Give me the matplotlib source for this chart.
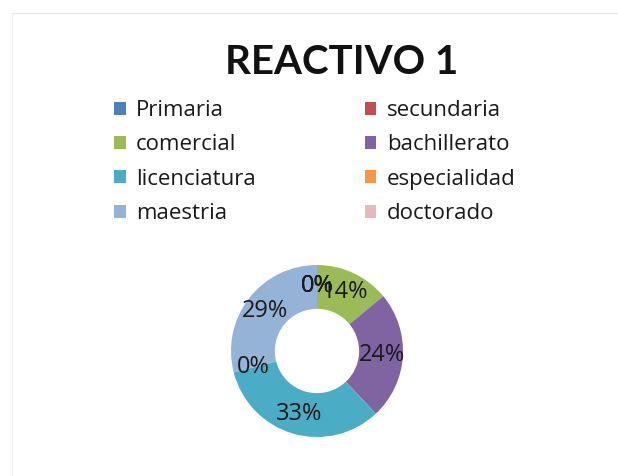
import matplotlib
matplotlib.use("Agg")
import matplotlib.pyplot as plt
from matplotlib.lines import Line2D

plt.rcParams['font.family'] = ['Lato', 'DejaVu Sans']

categorias = ["Primaria", "secundaria", "comercial", "bachillerato",
              "licenciatura", "especialidad", "maestria", "doctorado"]
porcentajes = [0, 0, 14, 24, 33, 0, 29, 0]
colores = ["#4F81BD", "#C0504D", "#9BBB59", "#8064A2",
           "#4BACC6", "#F79646", "#95B3D7", "#E6B9B8"]

W, H = 618, 476
fig = plt.figure(figsize=(W / 100, H / 100), dpi=100)
fig.patch.set_facecolor("white")

# faint frame lines along top and left
fig.add_artist(Line2D([12 / W, 1], [1 - 13 / H, 1 - 13 / H], color="#e4e4e4", lw=0.8))
fig.add_artist(Line2D([12 / W, 12 / W], [0, 1 - 13 / H], color="#eeeeee", lw=0.8))

# donut
cx, cy, r = 317, 351, 86
ax = fig.add_axes([(cx - r) / W, (H - cy - r) / H, 2 * r / W, 2 * r / H])
wedges, _, autotexts = ax.pie(porcentajes, colors=colores, startangle=90,
                              counterclock=False, autopct="%d%%",
                              pctdistance=0.76,
                              wedgeprops=dict(width=0.51, linewidth=0),
                              textprops=dict(fontsize=17, color="#1a1a1a",
                                             family=["Open Sans", "DejaVu Sans"]))
ax.set_xlim(-1, 1)
ax.set_ylim(-1, 1)
ax.set_aspect("equal")
ax.axis("off")

fig.text(342 / W, 1 - 62 / H, "REACTIVO 1", ha="center", va="center",
         fontsize=29, fontweight="bold", color="#111111")

# legend rows filled left to right
orden = [0, 2, 4, 6, 1, 3, 5, 7]
leg = fig.legend([wedges[i] for i in orden], [categorias[i] for i in orden],
                 ncol=2, loc="upper left", bbox_to_anchor=(114 / W, 1 - 100 / H),
                 frameon=False, prop=dict(family=["Open Sans", "DejaVu Sans"], size=16),
                 handlelength=0.52, handleheight=0.52,
                 handletextpad=0.48, labelspacing=0.6, columnspacing=4.9,
                 borderpad=0, borderaxespad=0)
for t in leg.get_texts():
    t.set_color("#1a1a1a")

fig.savefig("out.png", dpi=100)
